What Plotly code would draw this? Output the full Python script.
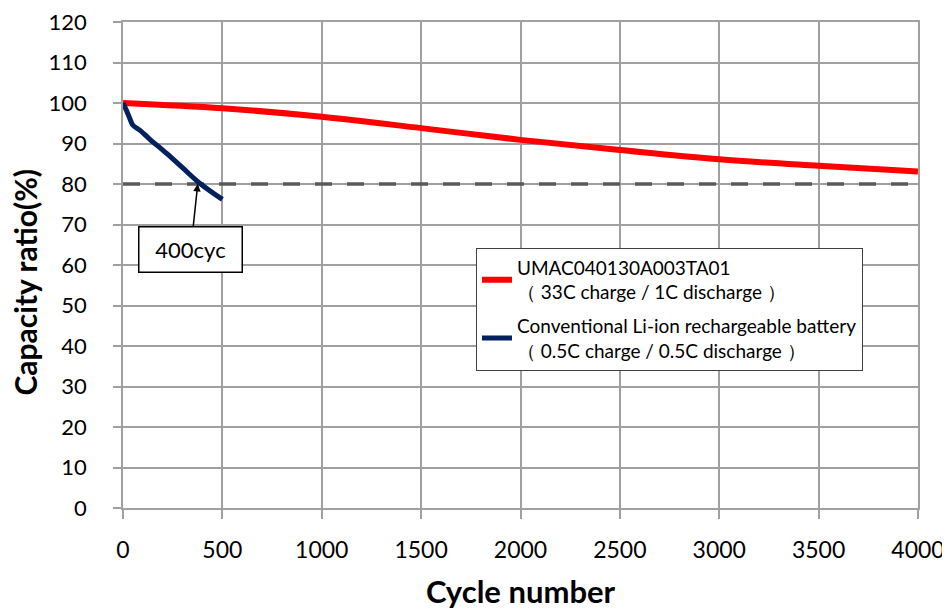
import plotly.graph_objects as go

# Data
red_x = [0, 500, 1000, 1500, 2000, 2500, 3000, 3500, 4000]
red_y = [100, 98.7, 96.6, 93.8, 90.9, 88.4, 86.1, 84.5, 83.1]
blue_x = [0, 17, 34, 50, 84, 134, 218, 302, 386, 500]
blue_y = [100, 98.2, 96.2, 94.5, 93.3, 91.1, 87.6, 83.9, 80.2, 76.2]
limit_x = [0, 4000]
limit_y = [80, 80]
red_name = "UMAC040130A003TA01<br>（ 33C charge / 1C discharge ）"
blue_name = "Conventional Li-ion rechargeable battery<br>（ 0.5C charge / 0.5C discharge ）"
x_ticks = [0, 500, 1000, 1500, 2000, 2500, 3000, 3500, 4000]
y_ticks = [0, 10, 20, 30, 40, 50, 60, 70, 80, 90, 100, 110, 120]
ann_text = "400cyc"
ann_head = (376, 80)
ann_tail = (341, 63.8)
x_title = "<b>Cycle number</b>"
y_title = "<b>Capacity ratio(%)</b>"

FONT = "Lato"
GRID = "#a0a0a0"

fig = go.Figure()
fig.add_trace(go.Scatter(x=limit_x, y=limit_y, mode="lines", showlegend=False,
                         line=dict(color="#595959", width=3.5, dash="17px,15px"),
                         hoverinfo="skip"))
fig.add_trace(go.Scatter(x=red_x, y=red_y, mode="lines", name=red_name,
                         legendgroup="a",
                         line=dict(color="#ff0000", width=6, shape="spline")))
fig.add_trace(go.Scatter(x=blue_x, y=blue_y, mode="lines", name=blue_name,
                         legendgroup="b",
                         line=dict(color="#002060", width=5, shape="spline")))

fig.add_annotation(x=ann_head[0], y=ann_head[1], ax=ann_tail[0], ay=ann_tail[1],
                   axref="x", ayref="y", xref="x", yref="y",
                   text=ann_text, showarrow=True, arrowhead=2, arrowsize=1,
                   arrowwidth=1.5, arrowcolor="black",
                   font=dict(family=FONT, size=22, color="black"),
                   bgcolor="white", bordercolor="black", borderwidth=1.5,
                   width=98, height=40, borderpad=2)

# y-axis title placed slightly below the plot centre, as in the reference
fig.add_annotation(x=-0.1233, y=0.466, xref="paper", yref="paper",
                   xanchor="center", yanchor="middle", textangle=-90,
                   text=y_title, showarrow=False,
                   font=dict(family=FONT, size=30, color="black"))

# page has an 8px body margin, so the figure is 8px smaller and offset
fig.update_layout(
    width=942, height=603,
    margin=dict(l=115, r=32, t=14, b=103),
    paper_bgcolor="white", plot_bgcolor="white",
    font=dict(family=FONT, size=22, color="black"),
    legend=dict(x=0.444, y=0.536, xanchor="left", yanchor="top",
                bgcolor="white", bordercolor="#404040", borderwidth=1,
                font=dict(family=FONT, size=19, color="black"),
                itemwidth=30, tracegroupgap=6),
    xaxis=dict(range=[0, 4000], tickvals=x_ticks, showgrid=True, gridcolor=GRID,
               gridwidth=1.5, showline=True, linecolor=GRID, linewidth=1.5,
               mirror=True, ticks="outside", ticklen=9, tickcolor=GRID,
               tickwidth=1.5, ticklabelstandoff=12, automargin=False,
               ticklabeloverflow="allow",
               tickfont=dict(family=FONT, size=23, color="black"),
               title=dict(text=x_title, standoff=19,
                          font=dict(family=FONT, size=31, color="black")),
               zeroline=False),
    yaxis=dict(range=[0, 120], tickvals=y_ticks, showgrid=True, gridcolor=GRID,
               gridwidth=1.5, showline=True, linecolor=GRID, linewidth=1.5,
               mirror=True, ticks="outside", ticklen=8, tickcolor=GRID,
               tickwidth=1.5, ticklabelstandoff=22, automargin=False,
               ticklabeloverflow="allow",
               tickfont=dict(family=FONT, size=22, color="black"),
               zeroline=False),
)

fig.write_html("out.html")
